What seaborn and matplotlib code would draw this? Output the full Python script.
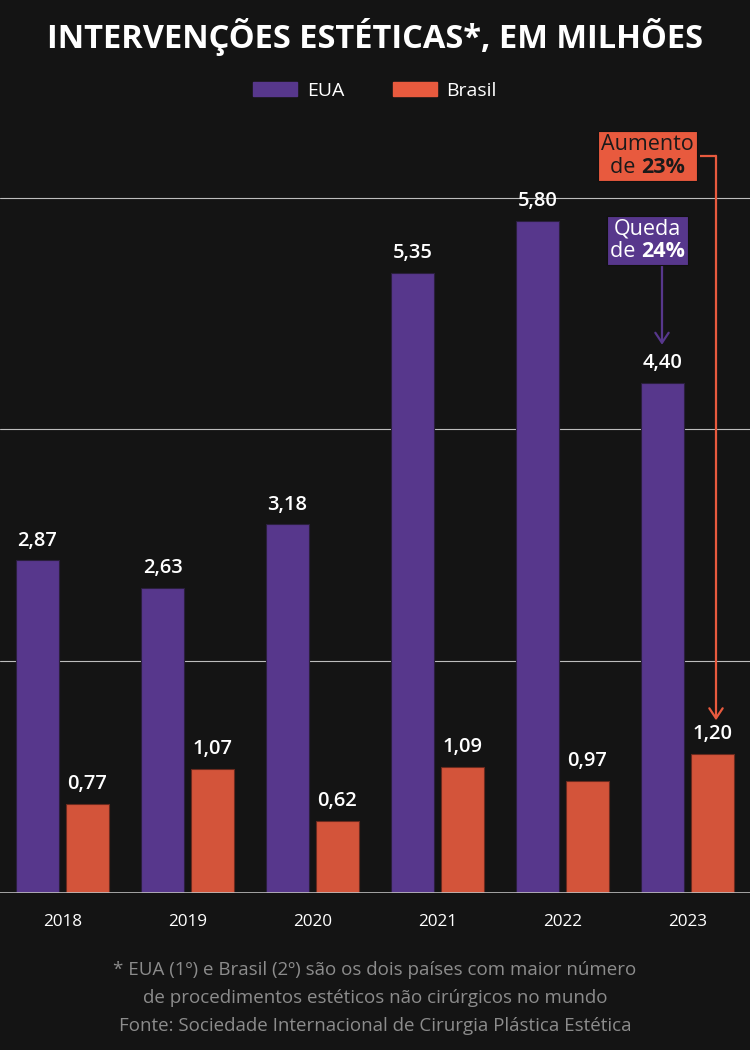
import matplotlib
matplotlib.use("Agg")
import matplotlib.pyplot as plt
import seaborn as sns
import pandas as pd
from matplotlib.patches import Patch
from matplotlib.offsetbox import TextArea, HPacker, VPacker, AnnotationBbox

anos = ["2018", "2019", "2020", "2021", "2022", "2023"]
eua = [2.87, 2.63, 3.18, 5.35, 5.80, 4.40]
brasil = [0.77, 1.07, 0.62, 1.09, 0.97, 1.20]
series = ["EUA", "Brasil"]
titulo = "INTERVENÇÕES ESTÉTICAS*, EM MILHÕES"
rodape = ["* EUA (1º) e Brasil (2º) são os dois países com maior número",
          "de procedimentos estéticos não cirúrgicos no mundo",
          "Fonte: Sociedade Internacional de Cirurgia Plástica Estética"]

BG = "#141414"
PURPLE = "#57378C"
ORANGE = "#D3543A"
ORANGE_L = "#E85A3E"
FONT = "Open Sans"

sns.set_theme(style="dark")
plt.rcParams["font.family"] = [FONT, "DejaVu Sans"]

df = pd.DataFrame({
    "ano": anos * 2,
    "valor": eua + brasil,
    "pais": ["EUA"] * len(anos) + ["Brasil"] * len(anos),
})

fig = plt.figure(figsize=(7.5, 10.5), dpi=100, facecolor=BG)
ax = fig.add_axes([0, 157 / 1050, 1, 765 / 1050])
ax.set_facecolor(BG)

sns.barplot(data=df, x="ano", y="valor", hue="pais", hue_order=series,
            palette=[PURPLE, ORANGE], saturation=1, width=0.8, gap=0.14,
            edgecolor="#2a1f3d", linewidth=0.8, legend=False, ax=ax, zorder=3)
for bar in ax.containers[1]:
    bar.set_edgecolor("#6a2a1e")

ax.set_xlim(-0.5, 5.5)
ax.set_ylim(0, 6.6)
ax.set_yticks([2, 4, 6])
ax.set_yticklabels([])
ax.grid(axis="y", color="#BDBDBD", linewidth=0.8, zorder=0)
ax.grid(axis="x", visible=False)
ax.axhline(0, color="#BDBDBD", linewidth=1.2, zorder=4)
for s in ax.spines.values():
    s.set_visible(False)
ax.set_xlabel("")
ax.set_ylabel("")
ax.tick_params(axis="x", length=0, pad=15, colors="white", labelsize=12.3)
ax.tick_params(axis="y", length=0)

for cont, vals in zip(ax.containers, [eua, brasil]):
    ax.bar_label(cont, labels=[f"{v:.2f}".replace(".", ",") for v in vals],
                 padding=7, color="white", fontsize=14.5, fontweight="semibold")

# title
fig.text(0.5, 1 - 37 / 1050, titulo, ha="center", va="center", color="white",
         fontsize=23.5, fontweight="bold")

# legend
handles = [Patch(facecolor=PURPLE, edgecolor=PURPLE),
           Patch(facecolor=ORANGE_L, edgecolor=ORANGE_L)]
leg = fig.legend(handles, series, loc="center", bbox_to_anchor=(0.5, 1 - 91 / 1050),
                 ncol=2, frameon=False, handlelength=2.25, handleheight=0.75,
                 handletextpad=0.5, columnspacing=2.5, fontsize=14)
for t in leg.get_texts():
    t.set_color("white")

# annotations
def box(top, bold, tcolor, fcolor, xy):
    t1 = TextArea(top, textprops=dict(color=tcolor, fontsize=15.5, family=[FONT]))
    t2a = TextArea("de ", textprops=dict(color=tcolor, fontsize=15.5, family=[FONT]))
    t2b = TextArea(bold, textprops=dict(color=tcolor, fontsize=15.5, fontweight="bold", family=[FONT]))
    line2 = HPacker(children=[t2a, t2b], align="baseline", pad=0, sep=0)
    vp = VPacker(children=[t1, line2], align="center", pad=0, sep=1)
    ab = AnnotationBbox(vp, xy, xycoords="data", frameon=True, box_alignment=(0.5, 0.5),
                        pad=0.2, bboxprops=dict(facecolor=fcolor, edgecolor="#101010",
                                                linewidth=0.8, boxstyle="square,pad=0.2"),
                        zorder=6, annotation_clip=False)
    ax.add_artist(ab)

box("Queda", "24%", "white", PURPLE, (4.68, 5.63))
box("Aumento", "23%", "#1a1a1a", ORANGE_L, (4.68, 6.36))

ax.annotate("", xy=(4.796, 4.73), xytext=(4.796, 5.41),
            arrowprops=dict(arrowstyle="->,head_length=0.6,head_width=0.4",
                            color=PURPLE, linewidth=1.6, shrinkA=0, shrinkB=0), zorder=5)
ax.plot([5.10, 5.228], [6.36, 6.36], color=ORANGE_L, linewidth=1.6, zorder=5,
        solid_capstyle="butt")
ax.annotate("", xy=(5.228, 1.49), xytext=(5.228, 6.36),
            arrowprops=dict(arrowstyle="->,head_length=0.6,head_width=0.4",
                            color=ORANGE_L, linewidth=1.6, shrinkA=0, shrinkB=0), zorder=5)

# footer
for i, line in enumerate(rodape):
    fig.text(0.5, 1 - (970 + 28 * i) / 1050, line, ha="center", va="center",
             color="#8C8C8C", fontsize=13.5)

fig.savefig("out.png", dpi=100, facecolor=BG)
